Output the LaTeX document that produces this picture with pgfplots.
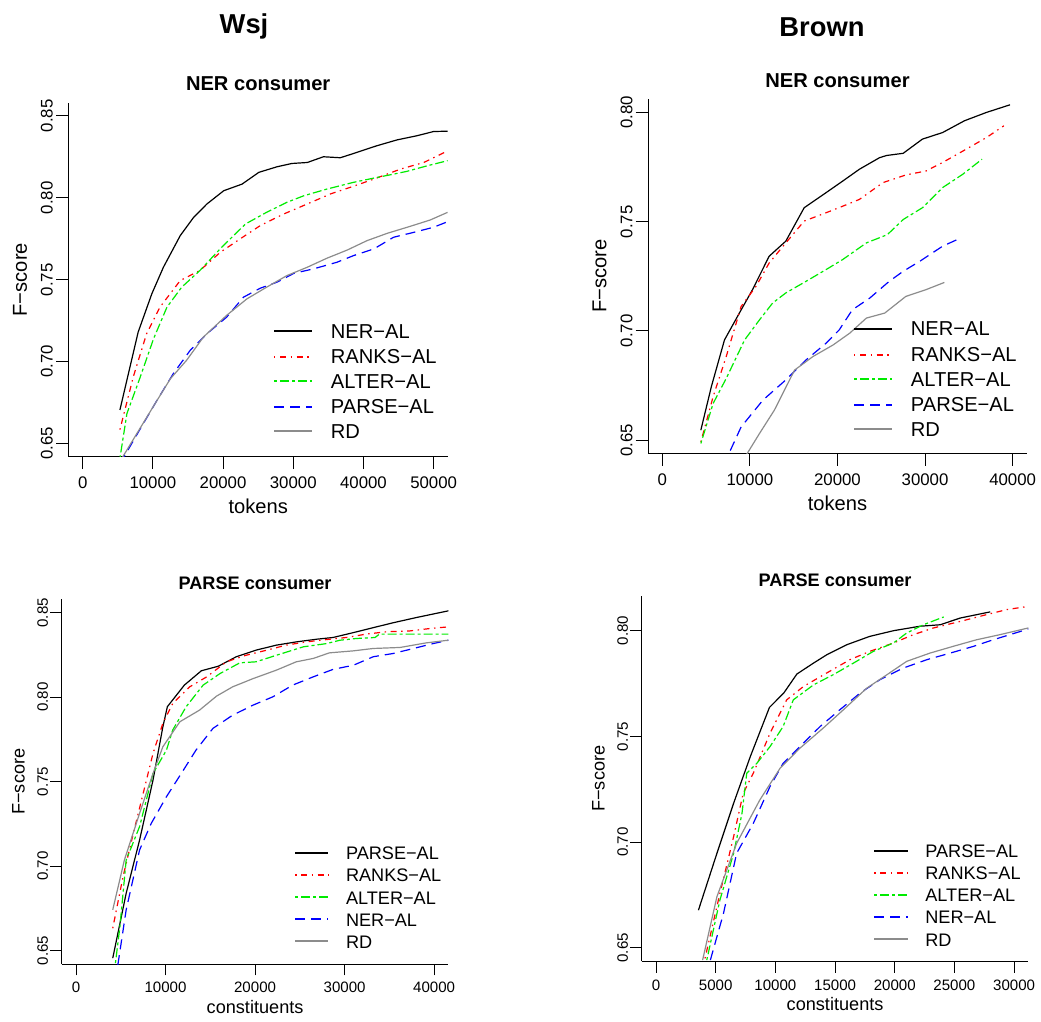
\documentclass[border=0pt]{standalone}
\usepackage{fontspec}
\setmainfont{Liberation Sans}
\usepackage{pgfplots}
\pgfplotsset{compat=1.18}
\definecolor{rred}{RGB}{255,0,0}
\definecolor{rgreen}{RGB}{0,235,0}
\definecolor{rblue}{RGB}{0,0,255}
\definecolor{rgray}{RGB}{140,140,140}
\tikzset{
  cblack/.style={draw=black, line width=0.9pt},
  cred/.style={draw=rred, line width=0.9pt, dash pattern=on 1.1pt off 3.4pt on 4.5pt off 3.4pt},
  cgreen/.style={draw=rgreen, line width=0.9pt, dash pattern=on 2.25pt off 2.25pt on 6.75pt off 2.25pt},
  cblue/.style={draw=rblue, line width=0.9pt, dash pattern=on 7.5pt off 4.5pt},
  cgray/.style={draw=rgray, line width=0.9pt},
  lw/.style={line width=1.2pt},
  legtop/.style={anchor=base west, inner sep=0pt, font=\fontsize{15.1}{18}\selectfont},
  legbot/.style={anchor=base west, inner sep=0pt, font=\fontsize{13.6}{16}\selectfont},
}
\pgfplotsset{
  rbase/.style={
    scale only axis, anchor=south west,
    axis x line*=bottom, axis y line*=left,
    axis line style={-, line width=0.75pt, draw=black},
    tick align=outside,
    tick style={line width=0.75pt, draw=black},
    scaled ticks=false,
  },
  rtop/.style={
    rbase,
    major tick length=9.4pt,
    tick label style={font=\fontsize{12.6}{14}\selectfont},
    yticklabel style={xshift=-2.6pt, rotate=90, anchor=base},
    xticklabel style={yshift=-14.7pt, anchor=base},
    every axis x label/.style={at={([yshift=-42.7pt]axis description cs:0.5,0)}, anchor=base, font=\fontsize{15.1}{18}\selectfont},
    every axis y label/.style={at={([xshift=-31.4pt]axis description cs:0,0.5)}, rotate=90, anchor=base, font=\fontsize{15.1}{18}\selectfont},
    every axis title/.style={at={([yshift=9pt]axis description cs:0.5,1)}, anchor=base, font=\bfseries\fontsize{15.1}{18}\selectfont},
  },
  rbot/.style={
    rbase,
    major tick length=8.6pt,
    tick label style={font=\fontsize{11.3}{13}\selectfont},
    yticklabel style={xshift=-1.8pt, rotate=90, anchor=base},
    xticklabel style={yshift=-12.9pt, anchor=base},
    every axis x label/.style={at={([yshift=-37.2pt]axis description cs:0.5,0)}, anchor=base, font=\fontsize{13.6}{16}\selectfont},
    every axis y label/.style={at={([xshift=-27.9pt]axis description cs:0,0.5)}, rotate=90, anchor=base, font=\fontsize{13.6}{16}\selectfont},
    every axis title/.style={at={([yshift=7.5pt]axis description cs:0.5,1)}, anchor=base, font=\bfseries\fontsize{13.6}{16}\selectfont},
  },
}
\begin{document}
\begin{tikzpicture}
\useasboundingbox (0,0) rectangle (780.75pt,-765.75pt);
\node[anchor=base, font=\bfseries\fontsize{20.5}{24}\selectfont] at (183pt,-25pt) {Wsj};
\node[anchor=base, font=\bfseries\fontsize{20.5}{24}\selectfont] at (616.5pt,-27pt) {Brown};

% Panel 1: WSJ NER consumer
\begin{axis}[rtop,
  at={(51.5pt,-342.5pt)}, width=284.25pt, height=265.5pt,
  xmin=-2000, xmax=52000, ymin=0.642, ymax=0.858,
  xtick={0,10000,20000,30000,40000,50000}, xticklabels={0,10000,20000,30000,40000,50000},
  ytick={0.65,0.70,0.75,0.80,0.85}, yticklabels={0.65,0.70,0.75,0.80,0.85},
  xlabel={tokens}, ylabel={F−score}, title={NER consumer},
]
\addplot[cblack] coordinates {(5300,0.6705) (7900,0.718) (9850,0.7414) (11500,0.7576) (13900,0.7769) (15800,0.788) (17700,0.7962) (20100,0.8043) (22700,0.8083) (25100,0.8155) (27700,0.8189) (29800,0.8209) (32000,0.8215) (34300,0.825) (36700,0.8244) (38600,0.827) (41900,0.8317) (44800,0.8353) (47600,0.8378) (50000,0.8404) (52000,0.8406)};
\addplot[cred] coordinates {(5300,0.6585) (6000,0.6703) (7200,0.6906) (9100,0.717) (11000,0.7332) (13900,0.7495) (16700,0.7556) (19600,0.7667) (22400,0.7748) (25300,0.783) (28600,0.79) (32000,0.7962) (35300,0.8023) (38100,0.8063) (41500,0.8114) (45300,0.8175) (48600,0.8215) (52000,0.8286)};
\addplot[cgreen] coordinates {(5300,0.641) (6300,0.6683) (8200,0.6906) (10100,0.714) (12000,0.7332) (14100,0.7454) (16700,0.7556) (19800,0.7698) (23200,0.784) (26200,0.7911) (29100,0.7972) (31500,0.8012) (34800,0.8053) (38600,0.8094) (41500,0.812) (44300,0.8144) (46200,0.8161) (49100,0.8195) (52000,0.8226)};
\addplot[cblue] coordinates {(5300,0.6376) (8200,0.659) (10600,0.6765) (12900,0.6926) (15300,0.7068) (17700,0.717) (20500,0.7271) (22900,0.7393) (25300,0.7448) (27700,0.7485) (30100,0.7539) (32900,0.7566) (36200,0.7606) (38600,0.7647) (41500,0.7688) (44300,0.7759) (47200,0.7789) (50000,0.782) (52000,0.7854)};
\addplot[cgray] coordinates {(5300,0.639) (7700,0.656) (10100,0.6729) (12500,0.6896) (14800,0.7008) (17200,0.715) (20500,0.7282) (23400,0.7383) (26200,0.7454) (29100,0.7525) (32000,0.7576) (34800,0.7631) (37700,0.7681) (40500,0.7738) (43400,0.7783) (46700,0.7826) (49500,0.7864) (52000,0.7911)};
\end{axis}

% Panel 2: Brown NER consumer
\begin{axis}[rtop,
  at={(486.2pt,-340pt)}, width=283.8pt, height=265.5pt,
  xmin=-1600, xmax=41600, ymin=0.644, ymax=0.806,
  xtick={0,10000,20000,30000,40000}, xticklabels={0,10000,20000,30000,40000},
  ytick={0.65,0.70,0.75,0.80}, yticklabels={0.65,0.70,0.75,0.80},
  xlabel={tokens}, ylabel={F−score}, title={NER consumer},
]
\addplot[cblack] coordinates {(4400,0.6546) (5600,0.6745) (7100,0.6959) (8800,0.7082) (10300,0.7189) (12200,0.7342) (14100,0.7411) (16200,0.7564) (18700,0.7633) (20600,0.7686) (22500,0.774) (24800,0.7793) (25600,0.7803) (27500,0.7813) (29700,0.7878) (32000,0.7908) (34500,0.7962) (37000,0.80) (39700,0.8035)};
\addplot[cred] coordinates {(4400,0.6492) (5800,0.6699) (7300,0.6883) (9000,0.7112) (10700,0.7204) (12200,0.7311) (14100,0.7403) (16200,0.7503) (18700,0.7541) (20600,0.7571) (22500,0.7602) (25200,0.7679) (27800,0.7714) (30100,0.7732) (32000,0.7771) (34700,0.7832) (37000,0.7885) (39000,0.7939)};
\addplot[cgreen] coordinates {(4400,0.6485) (5800,0.6668) (7300,0.6783) (9400,0.6959) (11100,0.7051) (12600,0.7128) (14100,0.7174) (16400,0.7227) (18700,0.7281) (20600,0.7327) (23300,0.7403) (25700,0.7441) (27500,0.751) (29700,0.7564) (32000,0.7656) (34300,0.7717) (36500,0.7786)};
\addplot[cblue] coordinates {(7000,0.6386) (9000,0.6561) (11500,0.6684) (14100,0.6776) (16400,0.6867) (18700,0.6944) (20200,0.7005) (21700,0.7097) (23700,0.7151) (25900,0.7227) (27500,0.7273) (29400,0.7319) (32000,0.7388) (34100,0.7426)};
\addplot[cgray] coordinates {(9000,0.6394) (11100,0.6531) (12800,0.6638) (15100,0.6821) (17200,0.6883) (19500,0.6936) (21400,0.699) (23300,0.7059) (25400,0.7082) (27800,0.7158) (30100,0.7189) (32200,0.7222)};
\end{axis}

% Panel 3: WSJ PARSE consumer
\begin{axis}[rbot,
  at={(46.3pt,-723pt)}, width=290pt, height=273.5pt,
  xmin=-1600, xmax=41600, ymin=0.642, ymax=0.858,
  xtick={0,10000,20000,30000,40000}, xticklabels={0,10000,20000,30000,40000},
  ytick={0.65,0.70,0.75,0.80,0.85}, yticklabels={0.65,0.70,0.75,0.80,0.85},
  xlabel={constituents}, ylabel={F−score}, title={PARSE consumer},
]
\addplot[cblack] coordinates {(4100,0.6455) (5600,0.6839) (7100,0.7155) (8600,0.751) (9700,0.7825) (10200,0.7944) (12100,0.8072) (14000,0.8157) (15900,0.8184) (17900,0.824) (20100,0.8279) (22400,0.8309) (24600,0.8328) (26900,0.8344) (28700,0.8354) (30600,0.8378) (32800,0.8407) (35400,0.8441) (38000,0.8472) (41600,0.8512)};
\addplot[cred] coordinates {(4100,0.6632) (5250,0.6938) (6400,0.7194) (7500,0.7431) (8600,0.7668) (9700,0.7845) (10800,0.7963) (12700,0.8062) (14600,0.8121) (16800,0.821) (19000,0.8249) (21300,0.8279) (23500,0.8309) (25700,0.8328) (28000,0.8342) (30200,0.8354) (32400,0.8374) (34700,0.8388) (37300,0.8393) (39500,0.8407) (41600,0.8417)};
\addplot[cgreen] coordinates {(4400,0.6425) (4900,0.6642) (5600,0.7036) (7100,0.7234) (8600,0.7549) (10100,0.7687) (10800,0.7806) (12300,0.7944) (14200,0.8072) (16100,0.8141) (18300,0.8204) (20100,0.821) (22400,0.8249) (25400,0.8299) (28000,0.8318) (29500,0.8338) (31300,0.8348) (33400,0.8354) (33900,0.8374) (41600,0.8374)};
\addplot[cblue] coordinates {(4400,0.632) (5600,0.6741) (7100,0.7096) (8400,0.7253) (10100,0.7411) (12000,0.7569) (13400,0.7687) (15300,0.7816) (17500,0.7894) (19800,0.7954) (22000,0.8003) (24200,0.8072) (26500,0.8121) (28700,0.8165) (31000,0.819) (33200,0.824) (35400,0.8259) (37700,0.8289) (39900,0.8318) (41600,0.8338)};
\addplot[cgray] coordinates {(4100,0.6741) (5400,0.7036) (7100,0.7313) (8600,0.7549) (9700,0.7707) (11600,0.7855) (13800,0.7924) (15700,0.8007) (17500,0.8062) (19800,0.8111) (22400,0.8161) (24600,0.821) (26500,0.823) (28300,0.8263) (31000,0.8275) (33200,0.8289) (36200,0.8295) (39100,0.8322) (41600,0.8338)};
\end{axis}

% Panel 4: Brown PARSE consumer
\begin{axis}[rbot,
  at={(481.3pt,-721pt)}, width=290pt, height=274pt,
  xmin=-1200, xmax=31200, ymin=0.6436, ymax=0.8164,
  xtick={0,5000,10000,15000,20000,25000,30000}, xticklabels={0,5000,10000,15000,20000,25000,30000},
  ytick={0.65,0.70,0.75,0.80}, yticklabels={0.65,0.70,0.75,0.80},
  xlabel={constituents}, ylabel={F−score}, title={PARSE consumer},
]
\addplot[cblack] coordinates {(3550,0.6678) (5100,0.6947) (6500,0.7184) (7900,0.7405) (9500,0.7637) (10700,0.7705) (11800,0.7795) (13200,0.7847) (14300,0.7886) (16000,0.7934) (17900,0.7973) (19900,0.80) (22100,0.8021) (23800,0.8028) (25500,0.806) (28000,0.8089)};
\addplot[cred] coordinates {(4100,0.645) (5350,0.6757) (6500,0.7026) (7300,0.7231) (8150,0.7326) (9550,0.7515) (10950,0.7673) (12350,0.7736) (14300,0.78) (16250,0.7863) (17900,0.7902) (19900,0.7942) (21550,0.7981) (23250,0.8013) (25500,0.8044) (27700,0.8076) (29400,0.81) (31200,0.8115)};
\addplot[cgreen] coordinates {(4250,0.6442) (5350,0.6726) (6500,0.6947) (7200,0.7136) (7600,0.7326) (8450,0.7373) (9550,0.7452) (10650,0.7547) (11500,0.7673) (13200,0.7744) (14850,0.7792) (16550,0.7847) (18200,0.7902) (19900,0.7942) (21000,0.7989) (22400,0.8028) (24100,0.8065)};
\addplot[cblue] coordinates {(4550,0.6442) (5650,0.6663) (6750,0.6947) (8150,0.7089) (9550,0.7263) (10650,0.7373) (12050,0.7452) (13750,0.7547) (15400,0.7626) (17100,0.7705) (18750,0.7768) (20700,0.7823) (22700,0.7863) (24650,0.7894) (26600,0.7926) (28250,0.7957) (31200,0.8008)};
\addplot[cgray] coordinates {(3900,0.6442) (5100,0.6742) (6750,0.6994) (8700,0.72) (10400,0.735) (12050,0.7444) (14000,0.7539) (15700,0.7626) (17650,0.7728) (19350,0.7792) (21000,0.7855) (22950,0.7894) (24900,0.7926) (26850,0.7957) (28800,0.7981) (31200,0.8013)};
\end{axis}

% Legends
% panel 1
\draw[cblack,lw] (205.5pt,-248.25pt) -- (234.2pt,-248.25pt);
\draw[cred,lw]   (205.5pt,-267.75pt) -- (234.2pt,-267.75pt);
\draw[cgreen,lw] (205.5pt,-285.75pt) -- (234.2pt,-285.75pt);
\draw[cblue,lw]  (205.5pt,-305.25pt) -- (234.2pt,-305.25pt);
\draw[cgray,lw]  (205.5pt,-323.25pt) -- (234.2pt,-323.25pt);
\node[legtop] at (248pt,-254.2pt) {NER−AL};
\node[legtop] at (248pt,-272.9pt) {RANKS−AL};
\node[legtop] at (248pt,-291.7pt) {ALTER−AL};
\node[legtop] at (248pt,-310.4pt) {PARSE−AL};
\node[legtop] at (248pt,-329.2pt) {RD};
% panel 2
\draw[cblack,lw] (640.5pt,-246.75pt) -- (669.2pt,-246.75pt);
\draw[cred,lw]   (640.5pt,-266.25pt) -- (669.2pt,-266.25pt);
\draw[cgreen,lw] (640.5pt,-284.25pt) -- (669.2pt,-284.25pt);
\draw[cblue,lw]  (640.5pt,-303.75pt) -- (669.2pt,-303.75pt);
\draw[cgray,lw]  (640.5pt,-321.75pt) -- (669.2pt,-321.75pt);
\node[legtop] at (683pt,-251.9pt) {NER−AL};
\node[legtop] at (683pt,-270.9pt) {RANKS−AL};
\node[legtop] at (683pt,-289.7pt) {ALTER−AL};
\node[legtop] at (683pt,-308.4pt) {PARSE−AL};
\node[legtop] at (683pt,-327.2pt) {RD};
% panel 3
\draw[cblack,lw] (221.3pt,-639.75pt) -- (246.2pt,-639.75pt);
\draw[cred,lw]   (221.3pt,-656.25pt) -- (246.2pt,-656.25pt);
\draw[cgreen,lw] (221.3pt,-672.75pt) -- (246.2pt,-672.75pt);
\draw[cblue,lw]  (221.3pt,-689.25pt) -- (246.2pt,-689.25pt);
\draw[cgray,lw]  (221.3pt,-705.75pt) -- (246.2pt,-705.75pt);
\node[legbot] at (259.3pt,-644.9pt) {PARSE−AL};
\node[legbot] at (259.3pt,-661.4pt) {RANKS−AL};
\node[legbot] at (259.3pt,-678.2pt) {ALTER−AL};
\node[legbot] at (259.3pt,-694.7pt) {NER−AL};
\node[legbot] at (259.3pt,-711.4pt) {RD};
% panel 4
\draw[cblack,lw] (655.7pt,-638.25pt) -- (681.2pt,-638.25pt);
\draw[cred,lw]   (655.7pt,-654.75pt) -- (681.2pt,-654.75pt);
\draw[cgreen,lw] (655.7pt,-671.25pt) -- (681.2pt,-671.25pt);
\draw[cblue,lw]  (655.7pt,-687.75pt) -- (681.2pt,-687.75pt);
\draw[cgray,lw]  (655.7pt,-704.25pt) -- (681.2pt,-704.25pt);
\node[legbot] at (693.8pt,-642.9pt) {PARSE−AL};
\node[legbot] at (693.8pt,-659.4pt) {RANKS−AL};
\node[legbot] at (693.8pt,-676.2pt) {ALTER−AL};
\node[legbot] at (693.8pt,-692.9pt) {NER−AL};
\node[legbot] at (693.8pt,-709.7pt) {RD};
\end{tikzpicture}
\end{document}
